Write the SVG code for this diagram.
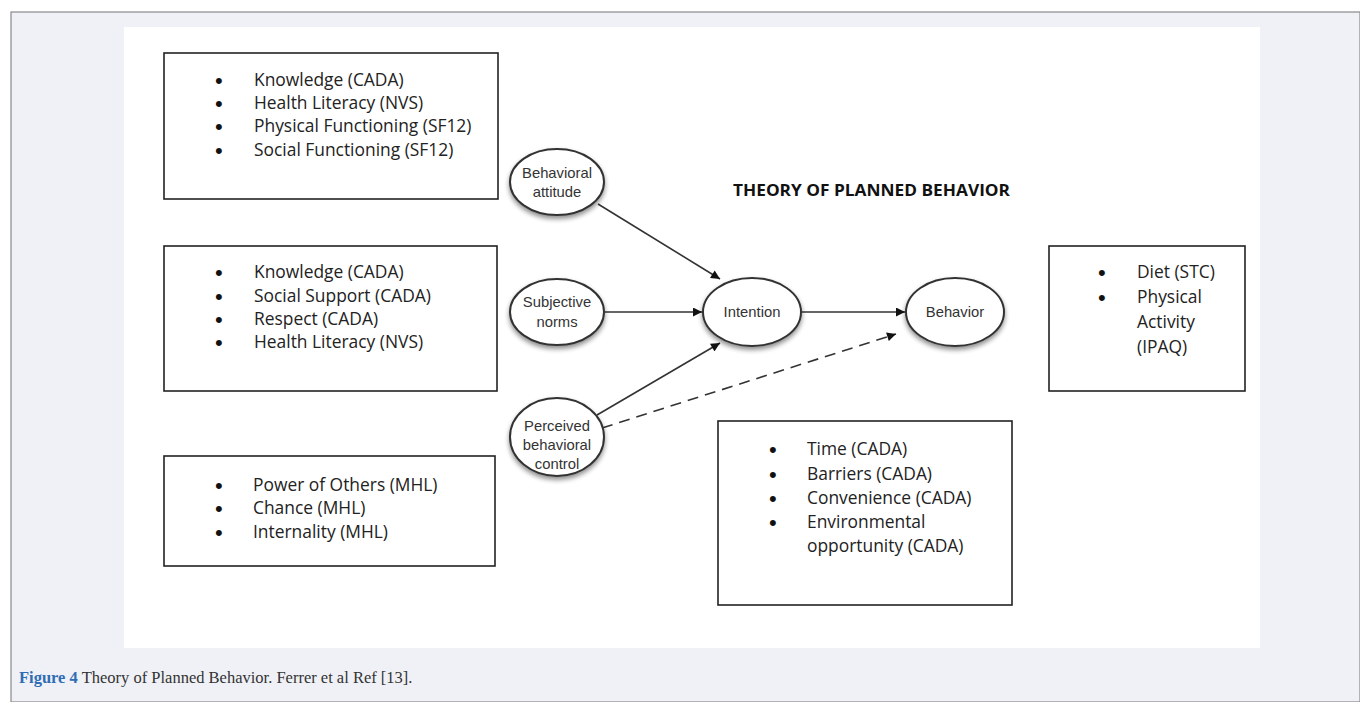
<svg xmlns="http://www.w3.org/2000/svg" width="1360" height="702" viewBox="0 0 1360 702">
<defs>
<style>
.box{fill:#fff;stroke:#222;stroke-width:1.6}
.lst{font-family:"Open Sans","Liberation Sans",sans-serif;font-size:17.4px;fill:#222}
.bl{font-family:"Liberation Sans",sans-serif;font-size:22px;fill:#111}
.nd{fill:#fff;stroke:#333;stroke-width:2}
.nt{font-family:"Liberation Sans",Arial,sans-serif;font-size:14.8px;fill:#333;text-anchor:middle}
.cn{stroke:#333;stroke-width:1.6;fill:none}
</style>
<marker id="ah" viewBox="0 0 10 10" refX="10" refY="5" markerWidth="10" markerHeight="9" markerUnits="userSpaceOnUse" orient="auto">
<path d="M0,0 L10,5 L0,10 z" fill="#111"/>
</marker>
<filter id="sh" x="-20%" y="-20%" width="140%" height="150%">
<feGaussianBlur in="SourceAlpha" stdDeviation="2.5"/>
<feOffset dx="0" dy="3" result="b"/>
<feComponentTransfer><feFuncA type="linear" slope="0.45"/></feComponentTransfer>
<feMerge><feMergeNode/><feMergeNode in="SourceGraphic"/></feMerge>
</filter>
</defs>
<rect x="0" y="0" width="1360" height="702" fill="#fff"/>
<rect x="11" y="12" width="1349" height="690" fill="#f0f1f6" stroke="#8a8a8a" stroke-width="1.2"/>
<rect x="124" y="27" width="1136" height="621" fill="#fff"/>

<g id="box1">
<rect class="box" x="164" y="53" width="334" height="146"/>
<g class="bl">
<text x="215" y="88">•</text><text x="215" y="111">•</text><text x="215" y="134">•</text><text x="215" y="158">•</text>
</g>
<g class="lst">
<text x="254" y="86">Knowledge (CADA)</text>
<text x="254" y="109">Health Literacy (NVS)</text>
<text x="254" y="132">Physical Functioning (SF12)</text>
<text x="254" y="156">Social Functioning (SF12)</text>
</g>
</g>
<g id="box2">
<rect class="box" x="164" y="246" width="333" height="145"/>
<g class="bl">
<text x="215" y="280">•</text><text x="215" y="304">•</text><text x="215" y="327">•</text><text x="215" y="350">•</text>
</g>
<g class="lst">
<text x="254" y="278">Knowledge (CADA)</text>
<text x="254" y="302">Social Support (CADA)</text>
<text x="254" y="325">Respect (CADA)</text>
<text x="254" y="348">Health Literacy (NVS)</text>
</g>
</g>
<g id="box3">
<rect class="box" x="164" y="456" width="331" height="110"/>
<g class="bl">
<text x="215" y="493">•</text><text x="215" y="516">•</text><text x="215" y="540">•</text>
</g>
<g class="lst">
<text x="253" y="491">Power of Others (MHL)</text>
<text x="253" y="514">Chance (MHL)</text>
<text x="253" y="538">Internality (MHL)</text>
</g>
</g>
<g id="box4">
<rect class="box" x="718" y="421" width="294" height="184"/>
<g class="bl">
<text x="769" y="457">•</text><text x="769" y="482">•</text><text x="769" y="506">•</text><text x="769" y="530">•</text>
</g>
<g class="lst">
<text x="807" y="455">Time (CADA)</text>
<text x="807" y="480">Barriers (CADA)</text>
<text x="807" y="504">Convenience (CADA)</text>
<text x="807" y="528">Environmental</text>
<text x="807" y="552">opportunity (CADA)</text>
</g>
</g>
<g id="box5">
<rect class="box" x="1049" y="246" width="196" height="145"/>
<g class="bl">
<text x="1098" y="280">•</text><text x="1098" y="305">•</text>
</g>
<g class="lst">
<text x="1137" y="278">Diet (STC)</text>
<text x="1137" y="303">Physical</text>
<text x="1137" y="328">Activity</text>
<text x="1137" y="353">(IPAQ)</text>
</g>
</g>

<g id="title">
<text x="733" y="196" font-family="Open Sans,Liberation Sans,sans-serif" font-weight="bold" font-size="16px" fill="#111" textLength="277" lengthAdjust="spacingAndGlyphs">THEORY OF PLANNED BEHAVIOR</text>
</g>

<g id="connectors">
<line class="cn" x1="598" y1="204" x2="720" y2="279" marker-end="url(#ah)"/>
<line class="cn" x1="604" y1="312" x2="702" y2="312" marker-end="url(#ah)"/>
<line class="cn" x1="597" y1="415" x2="720" y2="343" marker-end="url(#ah)"/>
<line class="cn" x1="602" y1="428" x2="896" y2="334" stroke-dasharray="11,7" marker-end="url(#ah)"/>
<line class="cn" x1="802" y1="312" x2="905" y2="312" marker-end="url(#ah)"/>
</g>

<g id="n-attitude">
<ellipse class="nd" cx="557" cy="182" rx="47" ry="33" filter="url(#sh)"/>
<text class="nt" x="557" y="178">Behavioral</text>
<text class="nt" x="557" y="197">attitude</text>
</g>
<g id="n-norms">
<ellipse class="nd" cx="557" cy="312" rx="47" ry="33" filter="url(#sh)"/>
<text class="nt" x="557" y="307">Subjective</text>
<text class="nt" x="557" y="327">norms</text>
</g>
<g id="n-pbc">
<ellipse class="nd" cx="557" cy="437" rx="47" ry="39" filter="url(#sh)"/>
<text class="nt" x="557" y="431">Perceived</text>
<text class="nt" x="557" y="450">behavioral</text>
<text class="nt" x="557" y="469">control</text>
</g>
<g id="n-intention">
<ellipse class="nd" cx="752" cy="312" rx="49" ry="34" filter="url(#sh)"/>
<text class="nt" x="752" y="317">Intention</text>
</g>
<g id="n-behavior">
<ellipse class="nd" cx="955" cy="312" rx="49" ry="34" filter="url(#sh)"/>
<text class="nt" x="955" y="317">Behavior</text>
</g>

<g id="caption">
<text x="19" y="683" font-family="Liberation Serif,serif" font-size="16.5px" fill="#333"><tspan fill="#2e6db4" font-weight="bold">Figure 4</tspan> Theory of Planned Behavior. Ferrer et al Ref [13].</text>
</g>
</svg>
